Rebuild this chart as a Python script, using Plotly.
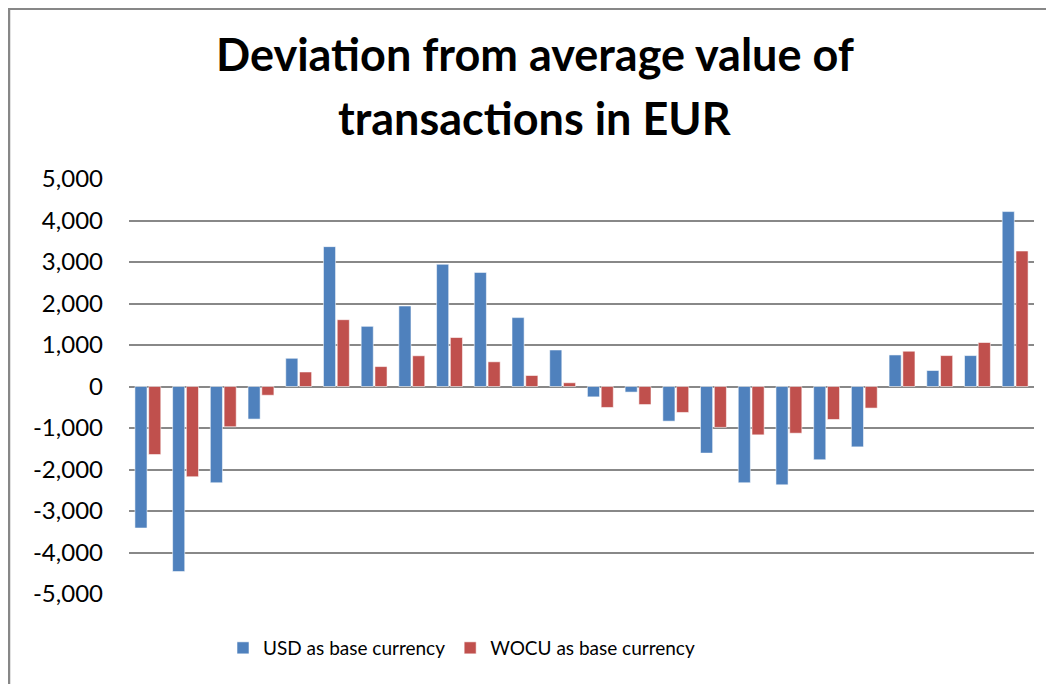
import plotly.graph_objects as go

categories = [str(i) for i in range(1, 25)]
usd = [-3410, -4460, -2320, -785, 680, 3370, 1450, 1940, 2945, 2750, 1660, 880,
       -250, -135, -835, -1605, -2320, -2370, -1765, -1455, 760, 385, 745, 4215]
wocu = [-1640, -2175, -970, -210, 350, 1610, 480, 740, 1180, 595, 265, 90,
        -505, -435, -625, -985, -1165, -1125, -795, -520, 850, 745, 1060, 3265]
tick_vals = [5000, 4000, 3000, 2000, 1000, 0, -1000, -2000, -3000, -4000, -5000]
tick_text = ["5,000", "4,000", "3,000", "2,000", "1,000", "0",
             "-1,000", "-2,000", "-3,000", "-4,000", "-5,000"]
title_lines = ["Deviation from average value of", "transactions in EUR"]

# page body adds an 8px offset; work in screen pixels
OFF = 8
W, H = 1054 - OFF, 684 - OFF
PX0, PX1, PY0, PY1 = 129, 1034, 179, 594  # plot area in screen pixels
L, R, T, B = PX0 - OFF, W - (PX1 - OFF), PY0 - OFF, H - (PY1 - OFF)
pw, ph = W - L - R, H - T - B

def px_x(x):
    return (x - OFF - L) / pw

def px_y(y):
    return 1 - (y - OFF - T) / ph

fig = go.Figure()
fig.add_bar(x=categories, y=usd, name="USD as base currency",
            marker=dict(color="#4F81BD", line=dict(color="rgba(255,255,255,0.55)", width=1)))
fig.add_bar(x=categories, y=wocu, name="WOCU as base currency",
            marker=dict(color="#C0504D", line=dict(color="rgba(255,255,255,0.55)", width=1)))

font = "Lato"
annotations = []
for line, yc in zip(title_lines, [54, 118]):
    annotations.append(dict(text=line, xref="paper", yref="paper",
                            x=px_x(535), y=px_y(yc), xanchor="center", yanchor="middle",
                            showarrow=False,
                            font=dict(family=font, size=45, color="black", weight="bold")))

fig.update_layout(
    width=W, height=H,
    margin=dict(l=L, r=R, t=T, b=B, pad=0, autoexpand=False),
    paper_bgcolor="white", plot_bgcolor="white",
    barmode="group", bargap=0.27, bargroupgap=0.12,
    annotations=annotations,
    showlegend=True,
    legend=dict(orientation="h", x=px_x(223), xanchor="left", xref="paper",
                y=px_y(648), yanchor="middle", yref="paper",
                font=dict(family=font, size=19, color="black"),
                itemwidth=30, tracegroupgap=0),
    xaxis=dict(showticklabels=False, showgrid=False, zeroline=False, showline=False,
               ticks="", automargin=False),
    yaxis=dict(range=[-5000, 5000], tickvals=tick_vals, ticktext=tick_text,
               showgrid=True, gridcolor="#888888", gridwidth=1.5,
               zeroline=True, zerolinecolor="#888888", zerolinewidth=1.5,
               showline=False, ticks="", ticklabelstandoff=25, automargin=False,
               tickfont=dict(family=font, size=24, color="black")),
    shapes=[
        dict(type="line", xref="paper", yref="paper",
             x0=px_x(OFF), x1=px_x(1060), y0=px_y(OFF + 1), y1=px_y(OFF + 1),
             line=dict(color="#878787", width=2)),
        dict(type="line", xref="paper", yref="paper",
             x0=px_x(OFF + 1), x1=px_x(OFF + 1), y0=px_y(OFF), y1=px_y(700),
             line=dict(color="#878787", width=2.5)),
    ],
)

fig.write_html("out.html")
